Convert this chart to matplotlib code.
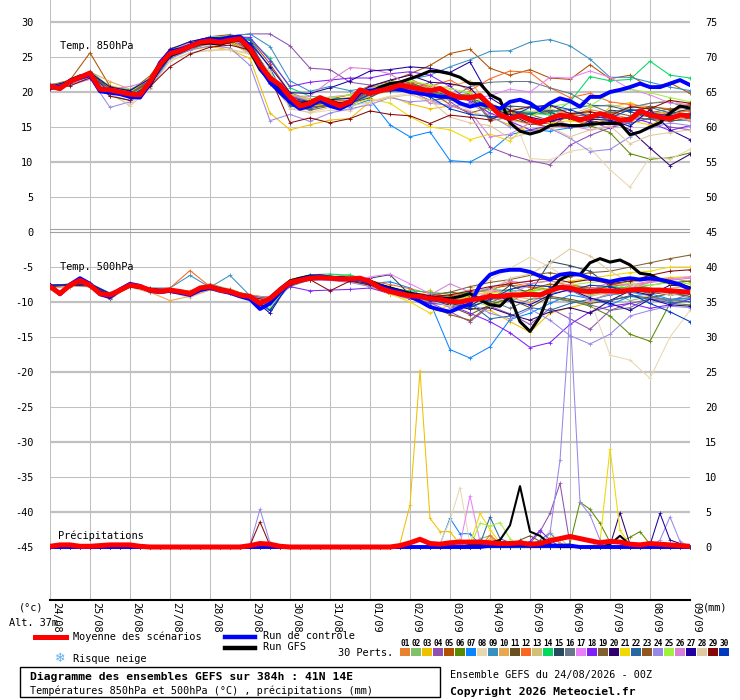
import numpy as np
import matplotlib
matplotlib.use('Agg')
import matplotlib.pyplot as plt
from matplotlib.patches import Rectangle

plt.rcParams['font.family'] = ['DejaVu Sans Mono', 'DejaVu Sans']

W, H = 740, 700

dates = ['24/08', '25/08', '26/08', '27/08', '28/08', '29/08', '30/08', '31/08', '01/09',
         '02/09', '03/09', '04/09', '05/09', '06/09', '07/09', '08/09', '09/09']

hours6 = np.arange(0, 385, 6)
hours12 = np.arange(0, 385, 12)

pert_colors = ['#e8822e', '#80c068', '#f0c000', '#9050b0', '#b05000', '#5a8a00', '#0a84ff', '#e8d8b0',
               '#3890c0', '#e8a850', '#6a5020', '#f86820', '#d0c078', '#00d860', '#284860', '#687888',
               '#e880f8', '#8020f8', '#806030', '#300070', '#f0d800', '#2868a0', '#905820', '#9888e8',
               '#a0f040', '#d880d8', '#2000a0', '#e0c8a0', '#880808', '#0038c0']

# 850 hPa (6h steps)
t850_mean = [20.8, 20.5, 21.5, 22.1, 22.7, 20.4, 20.3, 20.0, 19.7, 19.6, 21.5, 23.9, 25.5, 25.9, 26.5, 27.1,
             27.3, 27.1, 27.4, 27.6, 26.2, 23.9, 22.0, 21.0, 19.3, 18.0, 18.4, 19.2, 18.6, 18.0, 18.6, 20.3,
             19.8, 20.2, 20.5, 21.0, 20.7, 20.4, 20.2, 20.5, 19.7, 19.2, 19.2, 19.5, 18.1, 16.7, 16.2, 16.6,
             16.0, 15.6, 16.2, 16.7, 16.5, 16.0, 16.4, 16.9, 16.5, 16.0, 16.0, 17.3, 16.7, 16.4, 16.2, 16.7, 16.6]
t850_ctrl = [20.9, 20.6, 21.6, 22.0, 22.4, 20.1, 19.9, 19.7, 19.3, 19.2, 21.2, 24.2, 25.8, 26.1, 26.6, 27.3,
             27.6, 27.5, 27.8, 27.9, 26.6, 23.5, 21.4, 20.0, 18.6, 17.6, 18.0, 18.8, 18.0, 17.6, 18.3, 19.9,
             20.2, 20.3, 20.5, 20.4, 20.0, 19.8, 19.6, 19.3, 19.3, 18.4, 17.9, 18.3, 18.0, 17.6, 18.6, 18.9,
             18.4, 17.4, 18.4, 19.1, 18.7, 17.9, 19.3, 19.3, 20.0, 20.3, 20.7, 21.2, 20.7, 20.7, 21.2, 21.7, 21.0]
t850_gfs = [20.7, 20.4, 21.7, 22.3, 22.5, 20.6, 20.1, 19.8, 19.6, 19.4, 21.0, 23.6, 25.2, 25.7, 26.4, 26.9,
            27.0, 26.8, 27.2, 27.5, 25.8, 23.2, 21.6, 20.6, 19.0, 18.2, 18.6, 19.2, 18.8, 18.2, 18.7, 20.1,
            20.0, 20.7, 21.2, 21.4, 21.9, 22.4, 23.0, 22.9, 22.6, 22.1, 21.2, 21.2, 19.6, 18.9, 15.6, 14.4,
            14.0, 14.4, 15.2, 15.4, 15.2, 15.2, 15.4, 15.5, 15.5, 15.5, 13.9, 14.3, 15.0, 15.6, 17.0, 18.0, 17.7]

# 850 hPa perturbations (12h steps), one row per member 01..30
t850_perts = [
    [20.7, 21.3, 22.4, 20.6, 19.9, 21.8, 25.9, 26.9, 27.5, 27.8, 26.8, 22.5, 19.6, 18.0, 18.9, 19.2, 20.6, 21.2, 21.9, 20.5, 19.8, 18.9, 17.6, 17.0, 16.4, 15.8, 16.6, 17.5, 16.9, 16.2, 17.3, 16.8, 17.4],
    [20.9, 21.6, 22.9, 20.0, 19.4, 21.2, 25.2, 26.2, 27.0, 27.1, 25.6, 21.3, 18.9, 18.6, 18.3, 18.1, 19.5, 20.9, 21.2, 20.6, 19.3, 18.8, 18.4, 17.2, 17.0, 17.5, 16.4, 15.9, 16.8, 17.6, 17.0, 16.2, 16.9],
    [20.6, 21.2, 22.5, 20.9, 20.3, 21.6, 25.0, 26.0, 26.5, 26.0, 24.8, 17.0, 14.6, 15.3, 16.0, 16.2, 18.6, 19.4, 18.3, 17.6, 18.0, 17.2, 16.4, 15.3, 14.3, 15.2, 14.8, 15.6, 17.8, 18.5, 17.4, 16.4, 15.8],
    [20.5, 21.0, 22.6, 20.2, 19.5, 21.0, 25.3, 26.7, 27.6, 28.0, 28.3, 28.3, 26.6, 23.4, 23.2, 21.4, 21.0, 20.4, 20.2, 21.4, 18.6, 16.8, 12.1, 11.0, 10.2, 9.6, 12.4, 13.8, 14.9, 15.6, 16.2, 15.0, 14.6],
    [20.8, 21.7, 25.6, 20.8, 20.1, 22.3, 26.2, 27.0, 27.9, 28.2, 27.6, 24.0, 19.9, 18.8, 19.0, 19.6, 20.9, 21.5, 22.6, 23.8, 25.5, 26.1, 23.4, 22.4, 23.2, 22.0, 21.8, 23.9, 21.9, 22.4, 20.6, 21.3, 19.8],
    [20.9, 21.5, 22.8, 20.5, 19.6, 21.4, 25.6, 26.4, 27.1, 27.0, 25.8, 21.4, 18.6, 18.1, 18.3, 18.0, 19.7, 20.1, 20.5, 19.9, 19.4, 19.8, 18.2, 17.1, 16.8, 17.0, 16.1, 15.2, 14.2, 11.2, 10.4, 10.6, 11.3],
    [20.7, 21.4, 22.3, 19.5, 18.8, 21.0, 24.8, 26.0, 27.2, 27.9, 27.6, 21.3, 18.0, 17.9, 18.7, 17.9, 18.9, 15.3, 13.6, 14.3, 10.2, 10.0, 11.5, 13.9, 14.6, 14.4, 14.9, 15.2, 15.8, 15.5, 16.3, 15.9, 16.0],
    [20.4, 21.0, 22.1, 19.6, 18.3, 20.7, 24.6, 25.6, 25.9, 26.0, 25.4, 21.8, 17.8, 17.0, 17.4, 17.3, 18.6, 19.4, 19.8, 18.4, 18.9, 17.3, 16.4, 17.6, 10.5, 10.3, 11.5, 12.0, 8.9, 6.4, 10.7, 10.4, 11.8],
    [21.1, 21.4, 22.9, 20.6, 20.0, 22.0, 26.0, 27.2, 27.8, 28.0, 28.3, 26.5, 21.6, 20.1, 20.8, 20.2, 20.6, 21.3, 21.8, 22.4, 23.6, 24.6, 25.8, 25.9, 27.1, 27.5, 26.6, 24.7, 22.1, 22.1, 21.4, 20.7, 20.2],
    [20.6, 21.8, 22.9, 21.5, 20.4, 21.7, 25.4, 26.3, 26.8, 27.6, 26.6, 22.3, 19.5, 19.1, 18.8, 18.8, 20.2, 20.8, 21.0, 20.4, 20.8, 21.6, 17.8, 16.0, 15.4, 16.2, 16.8, 17.2, 16.4, 15.8, 16.8, 17.2, 18.5],
    [20.8, 21.5, 22.6, 20.1, 19.9, 21.5, 25.6, 26.6, 27.4, 27.3, 25.9, 21.4, 18.9, 18.2, 18.5, 18.6, 20.3, 20.9, 21.4, 20.2, 19.4, 19.6, 16.2, 16.8, 16.9, 17.4, 17.0, 16.8, 16.0, 16.4, 16.1, 15.8, 16.3],
    [21.0, 21.7, 22.8, 20.4, 19.8, 21.9, 25.9, 27.0, 27.5, 27.6, 26.9, 22.4, 19.4, 18.7, 18.9, 18.7, 20.6, 21.1, 21.5, 20.8, 21.7, 20.2, 21.9, 23.0, 22.8, 20.6, 19.2, 19.8, 18.6, 18.2, 17.9, 17.6, 17.2],
    [20.7, 21.3, 22.2, 20.0, 19.3, 21.2, 25.3, 26.4, 27.0, 27.1, 25.4, 21.6, 18.4, 17.6, 18.4, 18.5, 19.4, 20.2, 20.7, 19.8, 19.2, 19.6, 16.8, 17.8, 17.2, 17.6, 16.8, 17.8, 18.2, 17.6, 18.4, 18.8, 18.0],
    [20.9, 21.6, 23.0, 20.7, 20.3, 21.9, 26.0, 26.9, 27.8, 28.0, 27.5, 24.8, 20.6, 19.4, 19.1, 19.0, 20.4, 21.0, 20.6, 20.4, 19.7, 18.9, 17.4, 17.3, 17.1, 16.7, 18.6, 22.2, 21.6, 21.8, 24.4, 22.4, 22.0],
    [20.8, 21.4, 22.5, 20.2, 19.6, 21.3, 25.1, 26.2, 27.1, 27.2, 26.6, 22.6, 19.0, 18.2, 18.1, 18.3, 19.2, 20.7, 20.5, 19.4, 19.2, 18.8, 17.6, 18.0, 17.8, 17.1, 16.2, 16.0, 17.4, 17.2, 16.4, 16.9, 17.6],
    [20.6, 21.2, 22.4, 19.9, 19.3, 21.1, 25.0, 26.1, 27.0, 27.3, 26.4, 22.2, 19.4, 18.8, 18.4, 18.2, 19.6, 20.3, 20.8, 20.2, 18.9, 20.8, 21.4, 21.5, 21.5, 20.6, 19.8, 18.2, 17.0, 17.8, 18.4, 18.6, 17.5],
    [20.7, 21.5, 22.6, 20.3, 19.6, 21.6, 25.4, 26.8, 27.6, 27.7, 26.4, 22.4, 19.6, 18.8, 19.3, 19.6, 20.6, 21.0, 20.5, 20.2, 19.9, 18.9, 19.5, 20.4, 20.0, 22.1, 22.0, 23.0, 22.1, 20.4, 19.6, 18.4, 18.2],
    [20.5, 21.2, 22.3, 19.9, 19.2, 21.0, 25.2, 26.5, 27.5, 27.9, 27.8, 24.5, 20.8, 21.4, 21.7, 22.0, 22.0, 22.6, 22.9, 22.4, 20.8, 18.6, 17.0, 15.8, 14.6, 15.2, 15.0, 15.8, 14.8, 16.4, 15.6, 14.5, 15.2],
    [20.8, 21.6, 22.8, 20.4, 19.8, 21.7, 25.7, 26.6, 27.2, 27.2, 25.9, 21.1, 18.2, 17.4, 18.0, 18.4, 19.9, 20.7, 20.1, 18.8, 19.1, 19.6, 15.9, 16.4, 16.8, 15.9, 16.3, 15.2, 15.6, 16.2, 17.0, 17.6, 17.8],
    [20.9, 21.6, 22.7, 20.6, 20.1, 21.8, 25.6, 26.8, 27.7, 27.9, 26.9, 21.9, 18.8, 18.6, 18.9, 19.1, 20.8, 21.7, 22.4, 21.4, 21.2, 20.6, 17.6, 16.8, 15.4, 15.6, 16.6, 15.7, 15.9, 14.6, 12.0, 9.5, 11.1],
    [20.6, 21.4, 22.5, 20.2, 19.5, 21.3, 25.3, 26.3, 27.2, 27.3, 25.7, 21.5, 18.8, 18.0, 18.3, 18.3, 19.0, 18.4, 16.5, 15.0, 14.6, 13.2, 14.0, 13.0, 15.8, 15.6, 15.9, 15.4, 16.2, 15.9, 15.3, 16.4, 16.0],
    [20.7, 21.4, 22.6, 20.3, 19.7, 21.4, 25.5, 26.6, 27.4, 27.7, 27.4, 23.4, 18.0, 17.6, 18.2, 18.5, 20.1, 20.5, 20.1, 19.4, 19.8, 19.1, 18.2, 17.4, 16.9, 17.2, 17.5, 18.1, 18.0, 17.3, 17.8, 17.0, 16.4],
    [20.8, 21.5, 22.7, 20.2, 19.9, 21.4, 25.5, 26.5, 27.1, 27.4, 26.1, 21.6, 18.6, 17.9, 18.0, 18.2, 20.4, 21.0, 21.2, 20.1, 18.2, 17.0, 17.8, 16.2, 15.5, 15.0, 16.8, 16.5, 17.2, 16.6, 18.0, 17.4, 18.2],
    [20.5, 21.1, 22.0, 17.8, 18.6, 20.6, 24.8, 26.0, 26.6, 26.3, 23.8, 15.9, 16.8, 15.8, 17.0, 17.6, 18.2, 19.2, 18.6, 18.8, 17.9, 18.4, 16.6, 15.0, 14.2, 14.8, 13.4, 11.5, 11.8, 13.6, 14.8, 15.6, 15.2],
    [20.9, 21.6, 22.9, 20.6, 20.0, 21.9, 26.1, 27.0, 27.9, 27.8, 26.6, 22.6, 19.8, 18.8, 19.2, 19.6, 20.4, 21.4, 21.6, 21.0, 20.5, 19.9, 17.6, 17.4, 16.4, 17.9, 18.4, 18.0, 19.8, 20.4, 19.9, 19.2, 18.6],
    [20.4, 21.0, 21.8, 20.4, 20.8, 21.6, 25.8, 27.0, 27.5, 27.7, 25.6, 21.8, 19.4, 19.4, 21.6, 23.5, 23.3, 22.6, 20.8, 18.4, 18.1, 17.2, 13.6, 14.0, 15.6, 16.4, 15.2, 14.6, 15.0, 15.8, 16.9, 16.6, 15.9],
    [20.8, 21.6, 22.8, 20.7, 20.2, 21.9, 26.1, 27.2, 27.8, 27.6, 27.0, 23.6, 19.9, 19.8, 20.6, 21.6, 23.0, 23.2, 23.6, 23.4, 22.8, 24.3, 19.2, 17.4, 16.4, 15.8, 16.6, 16.1, 16.0, 15.1, 17.5, 14.6, 13.2],
    [20.5, 21.2, 22.3, 19.8, 18.0, 20.5, 24.4, 25.6, 26.0, 26.1, 25.5, 23.0, 17.6, 17.1, 17.8, 18.0, 18.6, 19.2, 19.6, 18.8, 16.4, 15.6, 15.2, 13.4, 14.2, 15.0, 13.6, 14.6, 15.2, 12.6, 13.8, 14.2, 14.6],
    [20.4, 20.9, 22.0, 19.4, 18.8, 20.8, 23.6, 25.4, 26.4, 26.7, 26.0, 22.2, 15.6, 16.3, 15.6, 16.2, 17.3, 16.8, 16.6, 15.5, 16.7, 16.4, 16.0, 17.3, 17.9, 18.1, 16.9, 17.2, 16.6, 17.9, 17.6, 18.8, 18.4],
    [20.6, 21.3, 22.5, 20.0, 19.4, 21.1, 25.0, 26.6, 27.5, 27.5, 26.8, 22.3, 19.2, 18.6, 18.7, 18.3, 19.7, 20.2, 20.0, 19.3, 17.6, 16.8, 16.5, 16.4, 17.8, 18.1, 17.5, 16.4, 16.3, 17.5, 17.0, 16.6, 16.9],
]

# 500 hPa (6h steps)
t500_mean = [-7.8, -8.8, -7.6, -6.9, -7.6, -8.8, -9.0, -8.3, -7.6, -7.8, -8.3, -8.5, -8.3, -8.5, -8.8, -8.0,
             -7.8, -8.3, -8.5, -9.0, -9.2, -10.2, -9.5, -8.3, -7.2, -6.9, -6.6, -6.5, -6.6, -6.7, -6.7, -6.6,
             -7.1, -8.0, -8.5, -8.8, -9.1, -9.2, -9.5, -9.6, -9.9, -10.0, -9.7, -9.5, -9.2, -9.2, -9.0, -9.0,
             -8.9, -9.0, -8.4, -7.9, -8.0, -8.4, -8.5, -8.4, -8.4, -8.5, -8.3, -8.2, -8.3, -8.3, -8.4, -8.5, -8.6]
t500_ctrl = [-7.6, -8.9, -7.5, -6.6, -7.4, -8.9, -9.3, -8.2, -7.4, -7.7, -8.4, -8.6, -8.4, -8.7, -9.0, -8.3,
             -8.0, -8.4, -8.7, -9.2, -9.6, -11.0, -10.2, -8.6, -7.3, -6.8, -6.4, -6.3, -6.5, -6.6, -6.8, -6.7,
             -7.3, -7.7, -8.2, -8.5, -9.2, -9.9, -10.7, -11.1, -11.4, -10.8, -10.3, -7.6, -6.1, -5.6, -5.4, -5.4,
             -5.7, -6.3, -6.8, -6.1, -5.9, -6.1, -6.6, -6.8, -7.1, -6.8, -6.6, -6.8, -6.6, -6.8, -7.1, -7.5, -8.2]
t500_gfs = [-7.9, -8.7, -7.7, -7.0, -7.5, -8.6, -9.1, -8.4, -7.7, -7.9, -8.2, -8.4, -8.5, -8.6, -8.9, -8.1,
            -7.9, -8.2, -8.6, -9.0, -9.4, -10.4, -9.4, -8.1, -7.0, -6.6, -6.3, -6.4, -6.6, -6.5, -6.6, -6.7,
            -7.0, -7.6, -8.0, -8.4, -8.8, -9.0, -9.3, -9.4, -9.5, -9.2, -8.8, -9.7, -10.4, -10.6, -9.2, -12.8,
            -14.2, -12.1, -8.5, -6.8, -6.1, -6.1, -4.4, -3.8, -4.3, -4.0, -4.7, -5.9, -6.1, -6.8, -7.2, -7.5, -8.0]

# 500 hPa perturbations (12h steps)
t500_perts = [
    [-7.9, -7.4, -7.3, -9.2, -7.5, -8.0, -8.2, -8.4, -7.4, -8.2, -9.6, -9.8, -7.0, -6.4, -6.3, -6.8, -7.8, -7.9, -9.3, -10.1, -9.2, -9.9, -8.6, -8.2, -7.4, -6.9, -7.8, -8.3, -8.9, -7.6, -7.2, -6.6, -7.1],
    [-7.7, -7.5, -7.8, -8.8, -7.6, -8.5, -8.1, -8.6, -7.7, -8.3, -9.4, -10.3, -7.6, -6.2, -6.4, -6.1, -7.0, -8.1, -9.4, -9.7, -10.4, -10.8, -9.6, -8.8, -9.2, -8.4, -7.9, -9.0, -8.4, -9.8, -9.2, -9.9, -9.6],
    [-7.8, -7.6, -7.7, -9.4, -7.7, -8.6, -8.4, -9.1, -7.9, -8.6, -9.3, -9.9, -7.4, -6.8, -6.5, -6.9, -7.6, -8.2, -9.6, -8.3, -10.4, -11.0, -11.2, -12.8, -14.3, -11.6, -10.8, -10.1, -8.6, -7.2, -6.8, -6.5, -6.4],
    [-7.6, -7.5, -7.5, -8.9, -7.8, -8.4, -8.3, -8.7, -7.6, -8.4, -9.0, -9.8, -7.7, -6.5, -6.7, -7.0, -7.6, -8.4, -9.0, -10.1, -11.4, -12.8, -10.6, -11.7, -13.2, -10.9, -12.4, -13.9, -11.2, -10.2, -9.6, -9.8, -8.9],
    [-7.9, -7.8, -7.6, -9.2, -7.7, -8.3, -8.5, -8.9, -7.9, -8.6, -9.1, -9.3, -7.1, -6.7, -6.8, -6.6, -7.2, -8.6, -9.2, -9.1, -8.6, -8.9, -8.1, -7.6, -7.9, -8.4, -7.6, -8.0, -7.8, -7.4, -8.0, -8.6, -8.8],
    [-7.8, -7.7, -7.6, -9.1, -7.5, -8.2, -8.4, -8.8, -7.8, -8.5, -9.2, -9.6, -7.2, -6.6, -6.5, -6.8, -7.3, -8.4, -9.0, -9.4, -9.6, -9.2, -10.1, -8.9, -9.0, -9.4, -9.8, -10.6, -12.0, -14.6, -15.6, -10.2, -10.4],
    [-7.7, -7.4, -7.3, -8.8, -7.3, -8.1, -8.4, -8.9, -7.7, -8.4, -9.6, -11.0, -7.6, -6.8, -6.8, -7.1, -7.4, -7.1, -8.0, -10.0, -16.8, -18.0, -16.4, -12.5, -11.6, -10.2, -9.0, -9.5, -10.4, -9.2, -8.8, -9.6, -9.4],
    [-7.9, -7.7, -7.9, -9.5, -7.9, -8.7, -8.6, -9.4, -8.2, -8.8, -9.2, -9.4, -7.3, -6.6, -6.6, -6.9, -7.6, -8.8, -9.4, -9.8, -9.0, -8.2, -6.8, -5.2, -3.6, -5.0, -7.0, -9.5, -17.6, -18.3, -20.9, -15.0, -11.2],
    [-7.6, -7.5, -7.4, -8.7, -7.4, -8.0, -8.0, -6.2, -7.9, -6.2, -9.1, -9.8, -7.2, -6.4, -6.8, -7.0, -7.4, -8.6, -9.3, -9.4, -9.8, -9.0, -9.5, -9.9, -8.6, -8.8, -8.3, -9.7, -9.0, -8.6, -9.1, -9.8, -9.4],
    [-7.8, -7.5, -7.5, -9.0, -7.7, -8.6, -9.8, -9.2, -8.3, -8.1, -9.2, -9.7, -7.0, -6.5, -6.7, -6.6, -7.8, -8.9, -9.6, -9.8, -10.2, -10.5, -8.8, -9.4, -10.1, -8.6, -7.4, -6.6, -7.4, -7.8, -8.6, -8.0, -7.8],
    [-7.9, -7.6, -7.8, -9.6, -7.6, -8.4, -8.3, -8.7, -7.8, -8.6, -9.3, -9.6, -7.4, -6.7, -6.6, -6.9, -7.3, -8.3, -9.2, -9.6, -10.6, -11.8, -10.4, -9.6, -10.8, -9.2, -9.6, -10.2, -9.8, -9.1, -9.4, -8.8, -9.2],
    [-7.6, -7.5, -7.5, -8.9, -7.4, -8.2, -8.0, -5.5, -7.8, -8.4, -9.0, -9.4, -6.8, -6.2, -6.3, -6.6, -7.0, -7.5, -8.1, -8.8, -9.2, -8.6, -8.4, -7.2, -7.8, -8.2, -7.6, -7.9, -8.4, -8.1, -8.8, -8.2, -8.6],
    [-7.8, -7.7, -7.7, -9.2, -7.7, -8.3, -8.5, -9.0, -8.0, -8.6, -9.3, -9.8, -7.5, -6.9, -6.7, -6.8, -7.6, -8.5, -9.5, -9.9, -10.2, -9.7, -9.6, -9.1, -9.6, -8.5, -8.0, -9.2, -8.6, -8.2, -8.0, -8.5, -8.4],
    [-7.8, -7.5, -7.6, -9.0, -7.6, -8.3, -8.2, -8.7, -7.6, -8.3, -9.1, -9.5, -6.9, -6.1, -6.0, -6.2, -6.9, -8.0, -8.4, -8.6, -8.9, -8.6, -8.2, -8.4, -8.4, -8.1, -7.8, -8.2, -7.8, -8.0, -7.6, -7.2, -7.0],
    [-7.7, -7.6, -7.7, -9.1, -7.8, -8.4, -8.5, -9.0, -8.0, -8.7, -9.4, -10.0, -7.4, -6.6, -6.7, -7.1, -6.6, -6.1, -9.0, -9.6, -9.9, -10.6, -9.8, -7.6, -8.8, -4.2, -4.8, -5.6, -7.8, -8.4, -8.6, -9.0, -8.8],
    [-7.9, -7.7, -7.8, -9.3, -7.7, -8.5, -8.5, -9.0, -8.1, -8.7, -9.5, -10.1, -7.8, -6.8, -6.8, -7.0, -7.4, -8.3, -9.5, -10.2, -10.0, -9.4, -9.8, -10.9, -9.6, -9.4, -9.9, -10.4, -11.2, -10.8, -9.4, -9.6, -10.0],
    [-7.7, -7.5, -7.6, -9.0, -7.6, -8.2, -8.2, -8.6, -7.7, -8.4, -9.1, -9.4, -7.2, -6.5, -6.7, -7.1, -6.4, -6.0, -7.4, -8.8, -9.4, -10.2, -8.2, -8.8, -7.6, -7.8, -8.6, -8.2, -7.2, -7.6, -7.0, -6.8, -6.4],
    [-7.8, -7.6, -7.7, -9.2, -7.7, -8.5, -8.6, -9.0, -8.0, -8.6, -9.3, -9.9, -7.8, -8.4, -8.3, -8.2, -8.0, -8.8, -9.5, -10.2, -10.4, -11.6, -12.8, -14.4, -16.5, -15.8, -13.2, -11.4, -10.6, -10.2, -10.9, -10.4, -9.6],
    [-7.8, -7.6, -7.6, -9.1, -7.7, -8.3, -8.4, -8.9, -7.8, -8.5, -9.2, -9.6, -7.3, -6.5, -6.5, -6.8, -7.2, -8.1, -8.8, -9.0, -8.6, -7.8, -7.2, -6.8, -6.2, -5.8, -6.4, -5.8, -5.6, -5.0, -4.4, -3.8, -3.3],
    [-7.7, -7.6, -7.5, -9.0, -7.5, -8.2, -8.3, -8.8, -7.8, -8.4, -9.2, -9.8, -7.4, -6.6, -6.6, -7.0, -7.5, -8.6, -9.4, -9.8, -10.5, -11.0, -10.8, -11.8, -12.6, -11.4, -10.8, -11.6, -9.8, -8.4, -9.0, -7.6, -7.8],
    [-7.9, -7.7, -7.8, -9.3, -7.8, -8.5, -8.5, -9.0, -8.0, -8.6, -9.4, -10.0, -7.5, -6.8, -6.8, -7.0, -7.7, -8.8, -10.0, -11.6, -10.4, -9.0, -8.6, -8.8, -8.4, -7.6, -7.0, -6.6, -6.2, -5.8, -5.6, -5.0, -5.0],
    [-7.6, -7.5, -7.5, -8.9, -7.6, -8.2, -8.3, -8.8, -7.7, -8.3, -9.1, -9.6, -7.3, -6.5, -6.6, -6.9, -7.3, -8.0, -9.2, -9.4, -9.6, -10.2, -12.4, -12.0, -10.8, -11.2, -10.2, -9.6, -9.8, -9.2, -9.6, -10.1, -9.9],
    [-7.8, -7.6, -7.7, -9.2, -7.8, -8.4, -8.4, -8.9, -7.9, -8.6, -9.2, -9.6, -7.2, -6.6, -6.6, -6.9, -7.3, -8.3, -9.0, -10.6, -11.8, -12.6, -10.4, -9.4, -8.2, -7.4, -8.0, -8.6, -7.6, -7.0, -6.8, -7.4, -7.0],
    [-7.9, -7.7, -7.8, -9.4, -7.8, -8.6, -8.6, -9.1, -8.1, -8.7, -9.6, -10.4, -7.6, -6.9, -6.9, -7.2, -7.8, -8.4, -9.0, -9.6, -10.8, -10.2, -11.6, -12.4, -11.0, -12.6, -14.8, -16.0, -14.6, -12.0, -11.2, -10.6, -10.8],
    [-7.7, -7.5, -7.6, -9.0, -7.5, -8.2, -8.1, -8.6, -7.6, -8.3, -9.1, -10.8, -7.2, -6.4, -6.5, -6.7, -7.1, -7.8, -8.6, -9.2, -9.4, -9.8, -10.6, -9.6, -8.6, -8.0, -7.6, -7.2, -7.0, -7.4, -7.6, -7.2, -7.4],
    [-7.8, -7.6, -7.6, -9.1, -7.6, -8.3, -8.4, -8.9, -7.8, -8.5, -9.2, -9.7, -7.2, -6.6, -6.6, -6.9, -7.3, -8.2, -8.7, -9.0, -7.4, -8.6, -8.0, -7.0, -7.4, -7.0, -7.6, -9.8, -8.8, -8.0, -7.2, -6.9, -6.6],
    [-7.6, -7.5, -7.4, -8.8, -7.4, -8.1, -8.2, -8.6, -7.6, -8.3, -9.2, -11.6, -7.1, -6.3, -6.4, -6.7, -7.0, -7.9, -8.6, -9.2, -9.6, -10.6, -8.8, -9.8, -10.4, -9.0, -8.2, -9.4, -10.2, -11.2, -9.6, -10.4, -10.6],
    [-7.9, -7.7, -7.7, -9.3, -7.8, -8.6, -8.6, -9.1, -8.1, -8.7, -9.4, -9.9, -7.4, -6.7, -6.7, -7.0, -7.6, -8.6, -9.4, -9.8, -10.6, -9.4, -8.4, -6.6, -6.0, -4.4, -2.4, -3.4, -5.6, -7.2, -8.4, -9.0, -8.6],
    [-7.8, -7.6, -7.7, -9.2, -7.8, -8.4, -8.5, -9.0, -8.0, -8.6, -9.3, -9.8, -7.6, -6.8, -8.4, -7.0, -7.6, -8.4, -9.0, -9.2, -9.0, -8.4, -7.8, -7.4, -7.0, -6.6, -7.2, -6.8, -7.4, -7.0, -6.2, -5.6, -5.4],
    [-7.7, -7.5, -7.5, -9.0, -7.5, -8.3, -8.4, -8.9, -7.8, -8.5, -9.4, -11.2, -7.3, -6.5, -6.6, -6.9, -7.4, -8.4, -9.2, -9.8, -10.2, -10.8, -9.6, -8.2, -7.6, -7.8, -8.4, -7.6, -7.8, -8.8, -10.2, -11.4, -12.8],
]

# precipitation (mm, 6h steps)
pr_mean = [0.1, 0.3, 0.3, 0.1, 0.1, 0.2, 0.3, 0.3, 0.3, 0.1,
           0, 0, 0, 0, 0, 0, 0, 0, 0, 0,
           0.2, 0.5, 0.4, 0.1, 0, 0, 0, 0, 0, 0,
           0, 0, 0, 0, 0, 0.2, 0.6, 1.1, 0.5, 0.4,
           0.6, 0.7, 0.7, 0.7, 0.6, 0.5, 0.5, 0.6, 0.4, 0.5,
           0.9, 1.2, 1.5, 1.2, 0.9, 0.6, 0.8, 0.7, 0.4, 0.3,
           0.5, 0.4, 0.3, 0.2, 0.1]
pr_ctrl = [0, 0, 0, 0, 0, 0, 0, 0, 0, 0,
           0, 0, 0, 0, 0, 0, 0, 0, 0, 0,
           0, 0, 0, 0, 0, 0, 0, 0, 0, 0,
           0, 0, 0, 0, 0, 0, 0, 0, 0, 0,
           0, 0, 0, 0, 0.2, 0.2, 0.2, 0.3, 0.2, 0.2,
           0.2, 0.2, 0.2, 0, 0, 0, 0, 0, 0, 0,
           0, 0, 0, 0, 0]
pr_gfs = [0, 0, 0, 0, 0, 0, 0, 0, 0, 0,
          0, 0, 0, 0, 0, 0, 0, 0, 0, 0,
          0, 0, 0, 0, 0, 0, 0, 0, 0, 0,
          0, 0, 0, 0, 0, 0, 0, 0, 0, 0,
          0, 0, 0.3, 0.4, 0.6, 1.0, 3.1, 8.7, 2.2, 1.6,
          0.4, 0, 0, 0, 0, 0, 0.4, 1.6, 0.3, 0,
          0, 0, 0, 0, 0]
# member -> (6h step, mm) where it rained
pr_perts = {
    2: [(43, 1.2), (44, 1.6)],
    3: [(35, 0.5), (36, 6.0), (37, 25.2), (38, 4.1), (39, 2.2), (40, 2.2), (41, 0.4)],
    4: [(48, 0.5), (49, 2.2), (50, 4.8), (51, 9.1), (52, 0.4)],
    6: [(52, 0.5), (53, 6.4), (54, 5.4), (55, 3.4), (56, 0.7), (57, 0.6), (58, 1.4), (59, 2.2), (60, 0.4)],
    7: [(39, 0.4), (40, 4.1), (41, 1.9), (42, 1.9), (43, 0.3)],
    8: [(39, 0.5), (40, 3.8), (41, 8.5), (42, 0.4), (49, 0.6), (50, 2.4), (51, 0.5)],
    9: [(49, 1.0), (50, 2.0), (51, 0.5)],
    10: [(44, 1.2), (45, 0.8), (50, 1.3), (51, 0.6)],
    11: [(47, 1.0), (48, 1.6), (49, 0.8)],
    12: [(44, 1.7), (45, 0.5)],
    13: [(50, 1.4), (51, 1.2), (55, 1.0), (56, 0.9), (57, 0.8)],
    17: [(41, 0.3), (42, 7.3), (43, 0.8)],
    18: [(48, 0.8), (49, 2.4), (50, 1.0)],
    20: [(56, 0.2), (57, 4.9), (58, 0.4)],
    21: [(42, 0.4), (43, 4.8), (44, 2.5), (45, 0.6), (55, 0.8), (56, 14.0), (57, 2.4), (58, 0.3)],
    22: [(43, 0.4), (44, 4.3), (45, 1.2), (46, 0.6)],
    24: [(20, 0.3), (21, 5.4), (22, 0.6), (50, 2.0), (51, 12.4), (52, 33.5), (53, 6.4), (54, 4.6),
         (55, 1.0), (56, 0.3), (61, 1.0), (62, 4.3), (63, 0.8)],
    25: [(43, 3.4), (44, 3.0), (45, 3.5), (46, 1.2)],
    27: [(60, 0.3), (61, 4.8), (62, 1.0), (63, 0.5)],
    28: [(40, 0.6), (41, 1.2)],
    29: [(20, 0.2), (21, 3.6), (22, 0.2)],
}

left_ticks = [30, 25, 20, 15, 10, 5, 0, -5, -10, -15, -20, -25, -30, -35, -40, -45]
PR_BASE = -45

y_top = 30 + 22 / 7
y_bot = 30 - (600 - 22) / 7

fig = plt.figure(figsize=(W / 100, H / 100), dpi=100)
fig.patch.set_facecolor('white')
ax = fig.add_axes([50 / W, 1 - 600 / H, 640 / W, 600 / H])
ax.set_xlim(0, 384)
ax.set_ylim(y_bot, y_top)
for s in ax.spines.values():
    s.set_visible(False)

grid_c = '#c0c0c0'
for h in range(0, 385, 24):
    ax.axvline(h, color=grid_c, lw=0.75, zorder=1)
for v in left_ticks:
    if v == 0:
        ax.axhline(0, color='#a0a0a0', lw=0.8, zorder=1)
        ax.axhline(0.43, color='#a0a0a0', lw=0.8, zorder=1)
    elif v % 10 == 0:
        ax.axhline(v, color=grid_c, lw=1.6, zorder=1)
    else:
        ax.axhline(v, color=grid_c, lw=0.75, zorder=1)
ax.axhline(y_bot, color='black', lw=1.5, zorder=6, clip_on=False)

lw_p = 0.75
for k in range(30):
    c = pert_colors[k]
    v850 = t850_perts[k]
    n = min(len(v850), len(hours12))
    ax.plot(hours12[:n], v850[:n], color=c, lw=lw_p, marker='+', ms=3, mew=0.6, zorder=2)
    v500 = t500_perts[k]
    n = min(len(v500), len(hours12))
    ax.plot(hours12[:n], v500[:n], color=c, lw=lw_p, marker='+', ms=3, mew=0.6, zorder=2)
    pr = np.zeros(len(hours6))
    for step, mm in pr_perts.get(k + 1, []):
        pr[step] = mm
    ax.plot(hours6, pr + PR_BASE, color=c, lw=lw_p, marker='+', ms=2.5, mew=0.5, zorder=2)

for data in (t850_gfs, t500_gfs):
    ax.plot(hours6, data, color='black', lw=2.2, zorder=3)
ax.plot(hours6, np.array(pr_gfs) + PR_BASE, color='black', lw=1.5, zorder=3)
for data in (t850_ctrl, t500_ctrl):
    ax.plot(hours6, data, color='#0000ff', lw=2.8, zorder=4)
ax.plot(hours6, np.array(pr_ctrl) + PR_BASE, color='#0000ff', lw=2.8, zorder=4)
for data in (t850_mean, t500_mean):
    ax.plot(hours6, data, color='#ff0000', lw=3.6, zorder=5)
ax.plot(hours6, np.array(pr_mean) + PR_BASE, color='#ff0000', lw=3.6, zorder=5)

fs = 7.4
ax.set_xticks([])
ax.set_yticks(left_ticks)
ax.set_yticklabels([str(v) for v in left_ticks], fontsize=fs)
ax.tick_params(axis='y', length=0, pad=12)
ax2 = ax.twinx()
ax2.set_ylim(y_bot, y_top)
ax2.set_yticks(left_ticks)
ax2.set_yticklabels([str(v + 45) for v in left_ticks], fontsize=fs)
ax2.tick_params(axis='y', length=0, pad=11)
for s in ax2.spines.values():
    s.set_visible(False)


def px(x, y):
    return x / W, 1 - y / H


ax.text(6, 26.2, 'Temp. 850hPa', fontsize=fs, zorder=7)
ax.text(6, -5.5, 'Temp. 500hPa', fontsize=fs, zorder=7)
ax.text(5, -43.8, 'Précipitations', fontsize=fs, zorder=7)

for k, d in enumerate(dates):
    fig.text(*px(51 + 40 * k, 602), d, rotation=270, ha='left', va='top', fontsize=fs)

fig.text(*px(19, 607), '(°c)', fontsize=fs, va='center')
fig.text(*px(703, 607), '(mm)', fontsize=fs, va='center')
fig.text(*px(9, 623), 'Alt. 37m', fontsize=fs, va='center')

fig.add_artist(plt.Line2D([35 / W, 66 / W], [1 - 637 / H] * 2, color='#ff0000', lw=3.6))
fig.text(*px(73, 637), 'Moyenne des scénarios', fontsize=fs, va='center')
fig.add_artist(plt.Line2D([225 / W, 255 / W], [1 - 637 / H] * 2, color='#0000ff', lw=3.2))
fig.text(*px(263, 636), 'Run de contrôle', fontsize=fs, va='center')
fig.add_artist(plt.Line2D([225 / W, 255 / W], [1 - 648 / H] * 2, color='black', lw=3.2))
fig.text(*px(263, 647), 'Run GFS', fontsize=fs, va='center')
fig.text(*px(60, 659), '\u2744', fontsize=9, color='#5aaaf0', ha='center', va='center',
         family=['DejaVu Sans'])
fig.text(*px(73, 659), 'Risque neige', fontsize=fs, va='center')
fig.text(*px(393, 653), '30 Perts.', fontsize=fs, ha='right', va='center')

for k in range(30):
    x0 = 400 + 11 * k
    fig.text(*px(x0 + 5, 643), '%02d' % (k + 1), fontsize=5.6, weight='bold', ha='center', va='center')
    fig.add_artist(Rectangle(px(x0, 656), 10 / W, 8 / H, transform=fig.transFigure,
                             facecolor=pert_colors[k], edgecolor='none'))

fig.add_artist(Rectangle(px(20, 697), 420 / W, 30 / H, transform=fig.transFigure,
                         fill=False, edgecolor='black', lw=1))
fig.text(*px(30, 677), 'Diagramme des ensembles GEFS sur 384h : 41N 14E', fontsize=8.2,
         weight='bold', va='center')
fig.text(*px(30, 691), 'Températures 850hPa et 500hPa (°C) , précipitations (mm)', fontsize=7.3,
         va='center')
fig.text(*px(450, 675), 'Ensemble GEFS du 24/08/2026 - 00Z', fontsize=7.3, va='center')
fig.text(*px(450, 692), 'Copyright 2026 Meteociel.fr', fontsize=8.2, weight='bold', va='center')

fig.savefig('out.png', dpi=100)
